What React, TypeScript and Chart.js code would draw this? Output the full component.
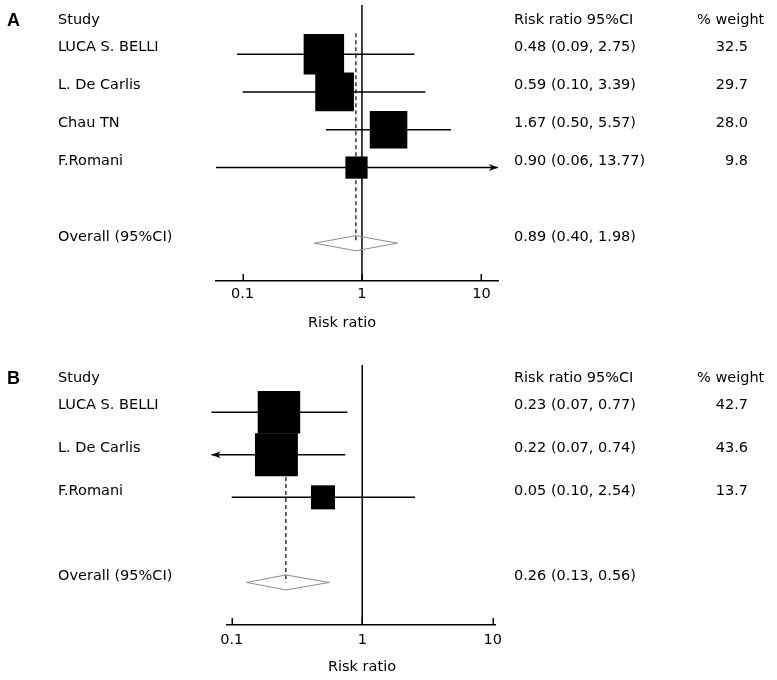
import React, { useEffect, useRef } from 'react';
import { Chart, registerables } from 'chart.js';
Chart.register(...registerables);

const FONT_FAMILY = '"DejaVu Sans", Verdana, sans-serif';
const FONT_SIZE = 14.5;

// ---------- Panel A data ----------
const studiesA = ['LUCA S. BELLI', 'L. De Carlis', 'Chau TN', 'F.Romani'];
const rrA = [0.48, 0.59, 1.67, 0.9];
const lowA = [0.09, 0.1, 0.5, 0.06];
const highA = [2.75, 3.39, 5.57, 13.77];
const weightA = [32.5, 29.7, 28.0, 9.8];
const ciTextA = ['0.48 (0.09, 2.75)', '0.59 (0.10, 3.39)', '1.67 (0.50, 5.57)', '0.90 (0.06, 13.77)'];
const weightTextA = ['32.5', '29.7', '28.0', '9.8'];
const arrowA = ['', '', '', 'right'];
const overallA = [0.89, 0.4, 1.98]; // estimate, low, high
const overallTextA = '0.89 (0.40, 1.98)';
const rangeA = [0.06, 13.77];

// ---------- Panel B data ----------
const studiesB = ['LUCA S. BELLI', 'L. De Carlis', 'F.Romani'];
const rrB = [0.23, 0.22, 0.5];
const lowB = [0.07, 0.07, 0.1];
const highB = [0.77, 0.74, 2.54];
const weightB = [42.7, 43.6, 13.7];
const ciTextB = ['0.23 (0.07, 0.77)', '0.22 (0.07, 0.74)', '0.05 (0.10, 2.54)'];
const weightTextB = ['42.7', '43.6', '13.7'];
const arrowB = ['', 'left', ''];
const overallB = [0.26, 0.13, 0.56];
const overallTextB = '0.26 (0.13, 0.56)';
const rangeB = [0.092, 10.4];

const xTicks = [0.1, 1, 10];
const headers = ['Study', 'Risk ratio 95%CI', '% weight'];
const overallLabel = 'Overall (95%CI)';
const axisTitle = 'Risk ratio';

type PanelProps = {
  letter: string;
  studies: string[];
  rr: number[];
  low: number[];
  high: number[];
  weights: number[];
  ciText: string[];
  weightText: string[];
  arrows: string[];
  overall: number[];
  overallText: string;
  range: number[];
  lay: {
    top: number;
    height: number;
    padLeft: number;
    padRight: number;
    padTop: number;
    axisHeight: number;
    yMin: number;
    yMax: number;
    overallRow: number;
    boxK: number;
    tickPad: number;
    titleX: number;
    titleY: number;
    dashTop: number;
    diamondHalf: number;
  };
};

const COL = { letter: 7, study: 58, ci: 514, weightRight: 748, weightHeader: 697 };

function ForestPanel(p: PanelProps) {
  const ref = useRef<HTMLCanvasElement>(null);
  useEffect(() => {
    const L = p.lay;
    const line = (data: any[], extra: any = {}) => ({
      type: 'scatter',
      data,
      showLine: true,
      pointRadius: 0,
      borderColor: '#000',
      borderWidth: 1.5,
      backgroundColor: '#000',
      tension: 0,
      fill: false,
      clip: false,
      ...extra,
    });
    const datasets: any[] = [];
    // boxes (top-most)
    datasets.push({
      type: 'scatter',
      data: p.rr.map((v, i) => ({ x: v, y: i })),
      pointStyle: 'rect',
      pointRadius: p.weights.map((w) => (L.boxK * Math.sqrt(w)) / Math.SQRT2),
      backgroundColor: '#000',
      borderWidth: 0,
      clip: false,
    });
    // diamond
    const [oe, ol, oh] = p.overall;
    const r = L.overallRow;
    const h = L.diamondHalf;
    datasets.push(
      line(
        [
          { x: ol, y: r },
          { x: oe, y: r - h },
          { x: oh, y: r },
          { x: oe, y: r + h },
          { x: ol, y: r },
        ],
        { borderColor: '#8c8c8c', borderWidth: 1 }
      )
    );
    // null line at 1
    datasets.push(line([{ x: 1, y: L.yMin }, { x: 1, y: L.yMax }], { borderWidth: 1.5 }));
    // dashed overall line
    datasets.push(line([{ x: oe, y: L.dashTop }, { x: oe, y: r }], { borderWidth: 1.2, borderDash: [4, 3] }));
    // whiskers
    p.low.forEach((lo, i) => {
      datasets.push(line([{ x: lo, y: i }, { x: p.high[i], y: i }]));
    });

    const textFont = `${FONT_SIZE}px ${FONT_FAMILY}`;
    const forestPlugin = {
      id: 'forestText',
      afterDatasetsDraw(chart: any) {
        const ctx = chart.ctx;
        const xs = chart.scales.x;
        const ys = chart.scales.y;
        ctx.save();
        ctx.fillStyle = '#000';
        p.arrows.forEach((a, i) => {
          if (!a) return;
          const y = ys.getPixelForValue(i);
          if (a === 'right') {
            const x = xs.getPixelForValue(p.high[i]);
            ctx.beginPath();
            ctx.moveTo(x, y);
            ctx.lineTo(x - 9, y - 3.5);
            ctx.lineTo(x - 6.5, y);
            ctx.lineTo(x - 9, y + 3.5);
            ctx.closePath();
            ctx.fill();
          } else {
            const x = xs.getPixelForValue(p.low[i]);
            ctx.beginPath();
            ctx.moveTo(x, y);
            ctx.lineTo(x + 9, y - 3.5);
            ctx.lineTo(x + 6.5, y);
            ctx.lineTo(x + 9, y + 3.5);
            ctx.closePath();
            ctx.fill();
          }
        });
        ctx.restore();
      },
      afterDraw(chart: any) {
        const ctx = chart.ctx;
        const xs = chart.scales.x;
        const ys = chart.scales.y;
        const area = chart.chartArea;
        ctx.save();
        // inward tick marks
        ctx.strokeStyle = '#000';
        ctx.lineWidth = 1.5;
        xTicks.forEach((v) => {
          const x = Math.round(xs.getPixelForValue(v)) + 0.25;
          ctx.beginPath();
          ctx.moveTo(x, area.bottom);
          ctx.lineTo(x, area.bottom - 7);
          ctx.stroke();
        });
        ctx.fillStyle = '#000';
        ctx.textBaseline = 'middle';
        const y0 = ys.getPixelForValue(0);
        const headY = y0 - 34;
        // panel letter
        ctx.font = `bold 18px "Liberation Sans", Arial, sans-serif`;
        ctx.textAlign = 'left';
        ctx.fillText(p.letter, COL.letter, headY + 1);
        ctx.font = textFont;
        ctx.fillText(headers[0], COL.study, headY);
        ctx.fillText(headers[1], COL.ci, headY);
        ctx.fillText(headers[2], COL.weightHeader, headY);
        p.studies.forEach((s, i) => {
          const y = ys.getPixelForValue(i) - 6.5;
          ctx.textAlign = 'left';
          ctx.fillText(s, COL.study, y);
          ctx.fillText(p.ciText[i], COL.ci, y);
          ctx.textAlign = 'right';
          ctx.fillText(p.weightText[i], COL.weightRight, y);
        });
        const oy = ys.getPixelForValue(p.lay.overallRow) - 6;
        ctx.textAlign = 'left';
        ctx.fillText(overallLabel, COL.study, oy);
        ctx.fillText(p.overallText, COL.ci, oy);
        ctx.textAlign = 'center';
        ctx.fillText(axisTitle, p.lay.titleX, p.lay.titleY);
        ctx.restore();
      },
    };

    const chart = new Chart(ref.current as HTMLCanvasElement, {
      type: 'scatter',
      data: { datasets },
      options: {
        animation: false,
        responsive: false,
        events: [],
        layout: { autoPadding: false, padding: { left: L.padLeft, right: L.padRight, top: L.padTop, bottom: 0 } },
        plugins: { legend: { display: false }, tooltip: { enabled: false }, title: { display: false } },
        scales: {
          x: {
            type: 'logarithmic',
            min: p.range[0],
            max: p.range[1],
            bounds: 'data',
            afterBuildTicks: (s: any) => {
              s.ticks = xTicks.map((v) => ({ value: v }));
            },
            afterFit: (s: any) => {
              s.height = L.axisHeight;
            },
            grid: { display: false, drawTicks: false },
            border: { display: true, color: '#000', width: 1.5 },
            ticks: {
              autoSkip: false,
              maxRotation: 0,
              padding: L.tickPad,
              color: '#000',
              font: { family: FONT_FAMILY, size: FONT_SIZE },
              callback: (v: any) => String(v),
            },
          },
          y: { type: 'linear', display: false, reverse: true, min: L.yMin, max: L.yMax },
        },
      } as any,
      plugins: [forestPlugin],
    } as any);
    return () => chart.destroy();
  }, []);
  return (
    <canvas
      ref={ref}
      width={777}
      height={p.lay.height}
      style={{ position: 'absolute', left: 0, top: p.lay.top, width: 777, height: p.lay.height, display: 'block' }}
    />
  );
}

export default function App() {
  return (
    <div style={{ position: 'absolute', left: 0, top: 0, width: 777, height: 680, background: '#fff' }}>
      <ForestPanel
        letter="A"
        studies={studiesA}
        rr={rrA}
        low={lowA}
        high={highA}
        weights={weightA}
        ciText={ciTextA}
        weightText={weightTextA}
        arrows={arrowA}
        overall={overallA}
        overallText={overallTextA}
        range={rangeA}
        lay={{
          top: 0,
          height: 340,
          padLeft: 216,
          padRight: 279,
          padTop: 5,
          axisHeight: 59,
          yMin: -1.3,
          yMax: 6,
          overallRow: 5,
          boxK: 7.1,
          tickPad: 5,
          titleX: 342,
          titleY: 323,
          dashTop: -0.55,
          diamondHalf: 0.2,
        }}
      />
      <ForestPanel
        letter="B"
        studies={studiesB}
        rr={rrB}
        low={lowB}
        high={highB}
        weights={weightB}
        ciText={ciTextB}
        weightText={weightTextB}
        arrows={arrowB}
        overall={overallB}
        overallText={overallTextB}
        range={rangeB}
        lay={{
          top: 340,
          height: 340,
          padLeft: 227,
          padRight: 282,
          padTop: 25,
          axisHeight: 55,
          yMin: -1.11,
          yMax: 5,
          overallRow: 4,
          boxK: 6.5,
          tickPad: 7,
          titleX: 362,
          titleY: 327,
          dashTop: -0.45,
          diamondHalf: 0.176,
        }}
      />
    </div>
  );
}
